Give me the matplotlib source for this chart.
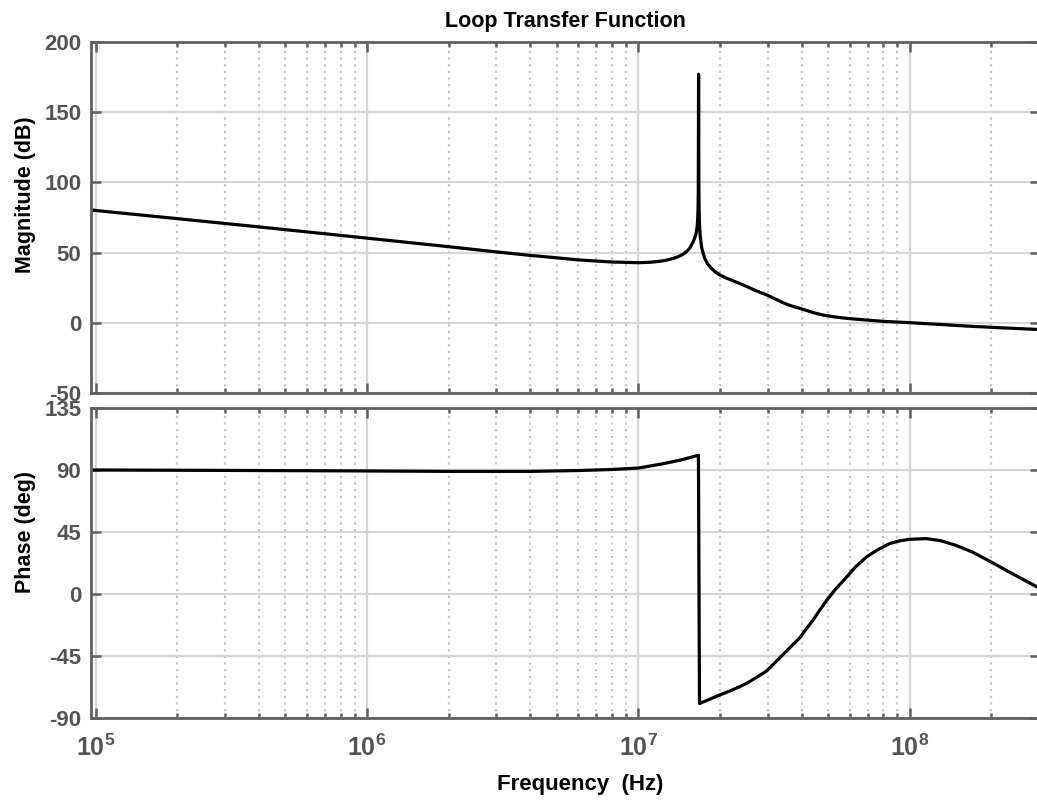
import matplotlib
matplotlib.use('Agg')
import matplotlib.pyplot as plt
from matplotlib.ticker import LogLocator, FixedLocator, FixedFormatter, NullFormatter

# Values
mag_freq = [9.62e4, 1e5, 2e5, 4e5, 1e6, 2e6, 3e6, 4e6, 5e6, 6e6, 8e6, 1e7,
            1.1e7, 1.2e7, 1.27e7, 1.34e7, 1.4e7, 1.45e7, 1.49e7, 1.52e7, 1.55e7,
            1.57e7, 1.59e7, 1.61e7, 1.63e7, 1.64e7, 1.65e7, 1.655e7, 1.66e7,
            1.663e7, 1.667e7, 1.671e7, 1.675e7, 1.68e7, 1.69e7, 1.71e7, 1.73e7,
            1.76e7, 1.8e7, 1.85e7, 1.92e7, 2.0e7, 2.1e7, 2.23e7, 2.5e7, 2.7e7,
            2.96e7, 3.4e7, 3.6e7, 3.93e7, 4.5e7, 4.8e7, 5.2e7, 5.6e7, 6e7,
            6.9e7, 8e7, 1e8, 1.3e8, 1.61e8, 2.2e8, 3.02e8]
mag_db = [80.4, 80.0, 74.2, 68.3, 60.3, 54.2, 50.5, 48.0, 46.3, 44.8, 43.3, 42.8,
          43.1, 43.8, 44.6, 45.8, 47.0, 48.5, 50.0, 51.5, 53.5,
          55.5, 57.5, 60.0, 63.0, 66.0, 70.0, 75.0, 82.0,
          95.0, 177.0, 95.0, 80.0, 70.0, 62.0, 54.0, 50.0,
          45.5, 42.0, 39.2, 36.3, 34.0, 32.0, 30.0, 26.0, 23.0,
          20.0, 14.5, 12.5, 10.3, 6.8, 5.5, 4.4, 3.6, 3.0,
          2.0, 1.0, 0.1, -1.2, -2.3, -3.6, -4.8]

ph_freq = [9.62e4, 1e5, 3e5, 1e6, 2e6, 4e6, 6e6, 8e6, 1e7, 1.23e7, 1.45e7,
           1.665e7, 1.68e7, 1.8e7, 2.0e7, 2.2e7, 2.5e7, 2.7e7, 2.96e7, 3.2e7,
           3.45e7, 3.7e7, 3.94e7, 4.15e7, 4.4e7, 4.65e7, 4.93e7, 5.3e7, 5.84e7,
           6.3e7, 6.92e7, 7.6e7, 8.43e7, 9.2e7, 1e8, 1.15e8, 1.3e8, 1.48e8,
           1.7e8, 2e8, 2.4e8, 3.02e8]
ph_deg = [90.0, 90.0, 89.7, 89.3, 89.0, 89.0, 89.6, 90.4, 91.4, 94.5, 97.5,
          100.7, -79.5, -77.0, -73.2, -70.0, -65.0, -61.0, -56.1, -49.5,
          -43.0, -37.0, -31.7, -25.5, -19.0, -12.0, -4.9, 3.0, 12.1,
          19.5, 26.8, 32.0, 36.6, 38.6, 39.7, 40.2, 38.7, 35.3,
          30.5, 23.1, 14.5, 4.0]

mag_ticks = [-50, 0, 50, 100, 150, 200]
ph_ticks = [-90, -45, 0, 45, 90, 135]
dec_ticks = [1e5, 1e6, 1e7, 1e8]
dec_labels = [r'$\mathbf{10^{5}}$', r'$\mathbf{10^{6}}$', r'$\mathbf{10^{7}}$', r'$\mathbf{10^{8}}$']

plt.rcParams['font.family'] = ['Liberation Sans', 'DejaVu Sans']
plt.rcParams['mathtext.fontset'] = 'custom'
plt.rcParams['mathtext.bf'] = 'Liberation Sans:bold'
plt.rcParams['mathtext.rm'] = 'Liberation Sans'

W, H = 1037, 801
spine_c = '#606060'
label_c = '#545454'

fig = plt.figure(figsize=(W / 100, H / 100), dpi=100)
x0, x1 = 91, 1040
ax1 = fig.add_axes([x0 / W, 1 - 393 / H, (x1 - x0) / W, (393 - 42) / H])
ax2 = fig.add_axes([x0 / W, 1 - 718 / H, (x1 - x0) / W, (718 - 408) / H])

for ax in (ax1, ax2):
    ax.set_xscale('log')
    ax.set_xlim(9.62e4, 3.02e8)
    ax.xaxis.set_major_locator(FixedLocator(dec_ticks))
    ax.xaxis.set_minor_locator(LogLocator(base=10, subs=range(2, 10), numticks=20))
    ax.xaxis.set_minor_formatter(NullFormatter())
    ax.grid(which='major', color='#d6d6d6', lw=1.6, ls='-')
    ax.grid(which='minor', axis='x', color='#c4c4c4', lw=1.6, ls=(0, (1, 2)))
    ax.set_axisbelow(True)
    for s in ax.spines.values():
        s.set_color(spine_c)
        s.set_linewidth(2.0)
    ax.tick_params(which='both', direction='in', top=True, right=True,
                   color=spine_c, width=1.8, labelcolor=label_c, labelsize=16)
    ax.tick_params(which='major', length=7)
    ax.tick_params(which='minor', length=3.5)
    ax.tick_params(axis='y', pad=7)

ax1.plot(mag_freq, mag_db, color='black', lw=2.3)
ax1.set_ylim(-50, 200)
ax1.set_yticks(mag_ticks)
ax1.set_yticklabels([str(t) for t in mag_ticks], fontweight='bold')
ax1.xaxis.set_major_formatter(NullFormatter())
ax1.set_title('Loop Transfer Function', fontsize=15.5, fontweight='bold', pad=11)
ax1.set_ylabel('Magnitude (dB)', fontsize=15.5, fontweight='bold')
ax1.yaxis.set_label_coords(-0.058, 0.564)

ax2.plot(ph_freq, ph_deg, color='black', lw=2.3)
ax2.set_ylim(-90, 135)
ax2.set_yticks(ph_ticks)
ax2.set_yticklabels([str(t) for t in ph_ticks], fontweight='bold')
ax2.xaxis.set_major_formatter(FixedFormatter(dec_labels))
ax2.tick_params(axis='x', pad=12, labelsize=18)
ax2.set_ylabel('Phase (deg)', fontsize=15.5, fontweight='bold')
ax2.yaxis.set_label_coords(-0.058, 0.60)
ax2.set_xlabel('Frequency  (Hz)', fontsize=16, fontweight='bold')
ax2.xaxis.set_label_coords(0.515, -0.18)

fig.savefig('out.png', dpi=100)
